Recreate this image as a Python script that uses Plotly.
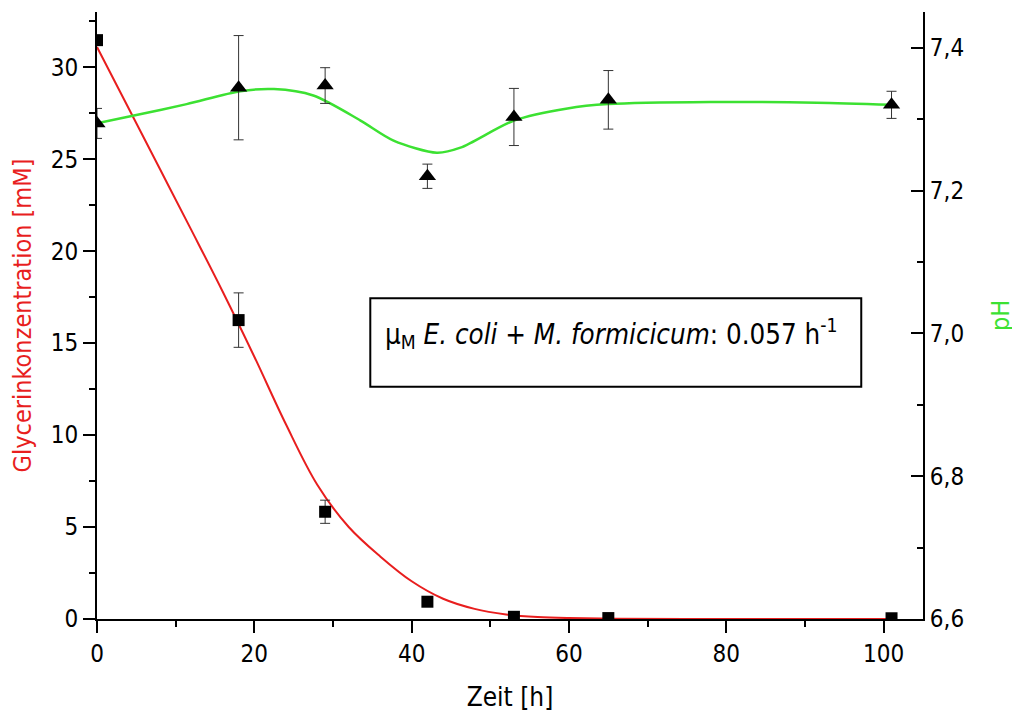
import plotly.graph_objects as go

# ---- data ----
time_h = [0, 18, 29, 42, 53, 65, 101]
glycerol_mM = [31.47, 16.25, 5.83, 0.94, 0.12, 0.05, 0.04]
glycerol_err = [0.0, 1.48, 0.63, 0.0, 0.0, 0.0, 0.0]

ph_values = [7.294, 7.344, 7.347, 7.220, 7.303, 7.327, 7.320]
ph_err = [0.021, 0.073, 0.025, 0.017, 0.040, 0.041, 0.019]

# fitted curves
glyc_fit_x = [0, 4, 8, 12, 16, 20, 24, 28, 32, 36, 40, 44, 48, 52, 56, 60, 66, 75, 90, 101]
glyc_fit_y = [31.1, 27.78, 24.46, 21.14, 17.78, 14.26, 10.6, 7.3, 5.0, 3.4, 2.05, 1.1,
              0.55, 0.25, 0.11, 0.05, 0.015, 0.0, 0.0, 0.0]

ph_fit_x = [0, 4.7, 11.4, 18.2, 22.5, 27.5, 33.5, 37.7, 43.2, 46.2, 53, 59.8, 65, 78, 91.5, 101]
ph_fit_y = [7.294, 7.305, 7.321, 7.339, 7.342, 7.333, 7.298, 7.270, 7.253, 7.260, 7.298, 7.315,
            7.321, 7.324, 7.323, 7.320]

x_ticks = [0, 20, 40, 60, 80, 100]
y_left_ticks = [0, 5, 10, 15, 20, 25, 30]
y_right_ticks = [6.6, 6.8, 7.0, 7.2, 7.4]

RED = "rgb(232,30,30)"
GREEN = "rgb(60,225,50)"
FONT = "DejaVu Sans Condensed, DejaVu Sans, sans-serif"

fig = go.Figure()

fig.add_trace(go.Scatter(
    x=glyc_fit_x, y=glyc_fit_y, mode="lines",
    line=dict(color=RED, width=2, shape="spline", smoothing=1.0),
    hoverinfo="skip", showlegend=False))

fig.add_trace(go.Scatter(
    x=ph_fit_x, y=ph_fit_y, mode="lines", yaxis="y2",
    line=dict(color=GREEN, width=2.5, shape="spline", smoothing=0.8),
    hoverinfo="skip", showlegend=False))

fig.add_trace(go.Scatter(
    x=time_h, y=glycerol_mM, mode="markers",
    marker=dict(symbol="square", size=12, color="black"),
    error_y=dict(type="data", array=glycerol_err, color="#333333", thickness=1, width=5),
    showlegend=False))

fig.add_trace(go.Scatter(
    x=time_h, y=ph_values, mode="markers", yaxis="y2",
    marker=dict(symbol="triangle-up", size=15, color="black"),
    error_y=dict(type="data", array=ph_err, color="#333333", thickness=1, width=5),
    showlegend=False))

# text box
fig.add_shape(type="rect", xref="x", yref="y", x0=34.74, x1=97.15, y0=12.63, y1=17.44,
              line=dict(color="black", width=2), fillcolor="rgba(0,0,0,0)")
fig.add_annotation(
    xref="x", yref="y", x=36.3, y=15.5, xanchor="left", yanchor="middle",
    text="μ<sub>M</sub> <i>E. coli</i> + <i>M. formicicum</i>: 0.057 h<sup>-1</sup>",
    showarrow=False, font=dict(family=FONT, size=27.5, color="black"))

axis_common = dict(showgrid=False, zeroline=False, showline=True, linecolor="black",
                   linewidth=2, tickcolor="black", tickwidth=2, ticklen=12, automargin=False,
                   tickfont=dict(family=FONT, size=24, color="black"))

# page body adds an 8 px offset, so the figure is sized and placed to compensate
fig.update_layout(
    width=1012, height=714,
    margin=dict(l=89, r=97, t=4, b=103),
    paper_bgcolor="white", plot_bgcolor="white",
    separators=",.",
    xaxis=dict(range=[0, 105], tickvals=x_ticks, ticks="outside",
               minor=dict(dtick=10, tick0=0, ticklen=6, ticks="outside", tickcolor="black", tickwidth=2),
               title=dict(text="Zeit [h]", font=dict(family=FONT, size=26, color="black"), standoff=21),
               **axis_common),
    yaxis=dict(range=[0, 33], tickvals=y_left_ticks, ticks="outside",
               minor=dict(dtick=2.5, tick0=0, ticklen=6, ticks="outside", tickcolor="black", tickwidth=2),
               title=dict(text="Glycerinkonzentration [mM]", font=dict(family=FONT, size=25, color=RED), standoff=14),
               **axis_common),
    yaxis2=dict(range=[6.6, 7.45], tickvals=y_right_ticks, tickformat=".1f", ticks="inside",
                overlaying="y", side="right",
                minor=dict(dtick=0.1, tick0=6.6, ticklen=6, ticks="inside", tickcolor="black", tickwidth=2),
                title=dict(text="pH", font=dict(family=FONT, size=25, color=GREEN), standoff=28),
                **axis_common),
)

fig.write_html("out.html")
